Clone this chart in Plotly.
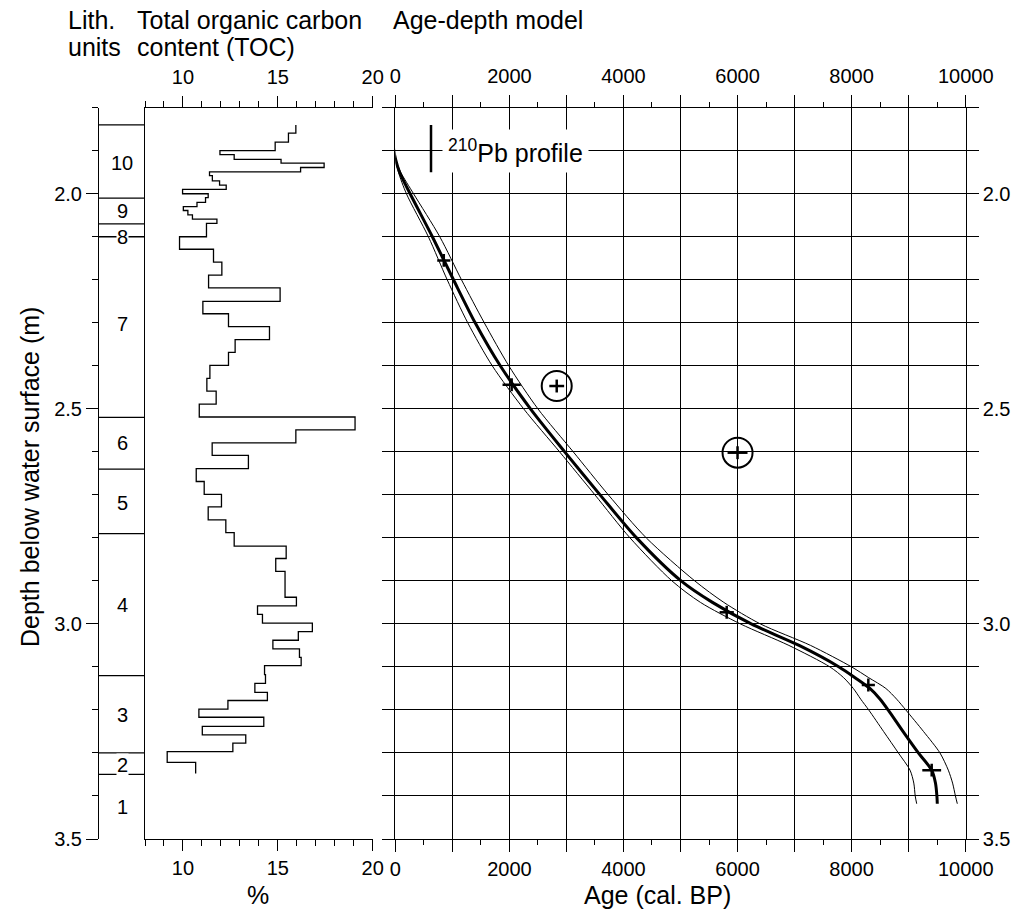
import plotly.graph_objects as go

# ---------------- data ----------------
# Lithological units: top boundaries (m), names and label depths
UNIT_TOPS = [1.84, 2.01, 2.07, 2.10, 2.52, 2.64, 2.79, 3.12, 3.30, 3.35]
UNIT_NAMES = ["10", "9", "8", "7", "6", "5", "4", "3", "2", "1"]
UNIT_LABEL_DEPTH = [1.929, 2.041, 2.10, 2.302, 2.579, 2.718, 2.955, 3.212, 3.327, 3.426]

# TOC samples: top depth of each sample (m), bottom of the last one, TOC (%)
TOC_TOP = [1.840, 1.859, 1.880, 1.900, 1.909, 1.920, 1.929, 1.939, 1.949, 1.958,
           1.970, 1.980, 1.990, 2.000, 2.009, 2.020, 2.030, 2.039, 2.049, 2.059,
           2.069, 2.100, 2.129, 2.159, 2.189, 2.219, 2.250, 2.279, 2.309, 2.339,
           2.369, 2.399, 2.429, 2.459, 2.489, 2.519, 2.549, 2.579, 2.608, 2.639,
           2.669, 2.699, 2.728, 2.758, 2.788, 2.819, 2.848, 2.878, 2.938, 2.958,
           2.978, 2.998, 3.018, 3.038, 3.058, 3.078, 3.097, 3.118, 3.138, 3.159,
           3.178, 3.198, 3.217, 3.238, 3.258, 3.277, 3.297, 3.322]
TOC_LAST_BOTTOM = 3.348
TOC_VALUES = [15.95, 15.56, 14.86, 11.95, 12.70, 15.17, 17.44, 16.20, 11.40, 11.55,
              11.93, 12.28, 9.98, 11.33, 11.19, 10.74, 10.02, 10.26, 10.50, 11.79,
              11.24, 9.82, 11.61, 12.05, 11.35, 15.12, 11.05, 12.40, 14.56, 12.75,
              12.40, 11.42, 11.26, 11.75, 10.86, 19.07, 15.95, 11.54, 13.45, 10.70,
              11.12, 12.03, 11.33, 12.26, 12.70, 15.44, 14.89, 15.38, 15.98, 13.93,
              14.19, 16.82, 16.08, 14.74, 16.14, 16.23, 14.30, 14.35, 13.79, 14.45,
              12.37, 10.84, 14.26, 11.02, 13.31, 12.63, 9.17, 10.67]

# Age-depth model: depth (m), best estimate and confidence envelope (cal. BP)
MODEL_DEPTH = [1.84, 1.88, 1.90, 1.92, 1.95, 2.00, 2.10, 2.20, 2.30, 2.40, 2.50, 2.60, 2.70,
               2.80, 2.90, 2.95, 3.00, 3.05, 3.10, 3.125, 3.15, 3.175, 3.20, 3.25, 3.30,
               3.34, 3.37, 3.40, 3.418]
MODEL_AGE = [-45, -43, -25, 5, 75, 260, 650, 1020, 1400, 1840, 2370, 2970, 3590,
             4230, 5010, 5560, 6240, 7080, 7780, 8060, 8320, 8500, 8640, 8900, 9170,
             9404, 9470, 9495, 9502]
MODEL_YOUNG = [-45, -43, -25, 5, 55, 195, 580, 910, 1270, 1700, 2250, 2880, 3500,
               4115, 4850, 5350, 6050, 6900, 7620, 7860, 8030, 8160, 8300, 8560, 8820,
               9024, 9090, 9115, 9141]
MODEL_OLD = [-45, -43, -25, 5, 95, 320, 780, 1160, 1560, 1990, 2500, 3120, 3735,
             4400, 5250, 5760, 6400, 7280, 8000, 8300, 8600, 8790, 8950, 9260, 9549,
             9695, 9770, 9820, 9853]

# Radiocarbon dates used in the model and rejected ones
DATE_AGE = [850, 2040, 5810, 8293, 9404]
DATE_DEPTH = [2.155, 2.444, 2.973, 3.142, 3.340]
DATE_ERR = [115, 160, 125, 115, 165]
REJECTED_AGE = [2830, 6000]
REJECTED_DEPTH = [2.447, 2.602]
REJECTED_ERR = [130, 175]
SAMPLE_HALF_THICKNESS = 0.015

# 210Pb dated interval
PB_AGE = 626
PB_DEPTH = [1.84, 1.95]

# ---------------- layout helpers ----------------
W, H = 1017, 911
FONT = "Liberation Sans, Arial, sans-serif"


def px_x(p):
    return p / W


def px_y(p):
    return 1 - p / H


Y_DOMAIN = [px_y(839), px_y(107.7)]
X_LITH = [px_x(99), px_x(145)]
X_TOC = [px_x(145), px_x(372.7)]
X_AGE = [px_x(395.3), px_x(965.7)]
DEPTH_RANGE = [3.5, 1.8]

fig = go.Figure()

# TOC step profile
toc_x, toc_y = [], []
bottoms = TOC_TOP[1:] + [TOC_LAST_BOTTOM]
for v, t, b in zip(TOC_VALUES, TOC_TOP, bottoms):
    toc_x += [v, v]
    toc_y += [t, b]
fig.add_trace(go.Scatter(x=toc_x, y=toc_y, mode="lines", xaxis="x2", yaxis="y2",
                         line=dict(color="black", width=1.3), hoverinfo="skip"))

# Age-depth envelope and model
for ages in (MODEL_YOUNG, MODEL_OLD):
    fig.add_trace(go.Scatter(x=ages, y=MODEL_DEPTH, mode="lines", xaxis="x3", yaxis="y3",
                             line=dict(color="black", width=1, shape="spline", smoothing=0.8),
                             hoverinfo="skip"))
fig.add_trace(go.Scatter(x=MODEL_AGE, y=MODEL_DEPTH, mode="lines", xaxis="x3", yaxis="y3",
                         line=dict(color="black", width=3, shape="spline", smoothing=0.8),
                         hoverinfo="skip"))

# 210Pb interval bar
fig.add_trace(go.Scatter(x=[PB_AGE, PB_AGE], y=PB_DEPTH, mode="lines", xaxis="x3", yaxis="y3",
                         line=dict(color="black", width=2.5), hoverinfo="skip"))

# Dates as crosses (age error horizontally, sample thickness vertically)
fig.add_trace(go.Scatter(
    x=DATE_AGE, y=DATE_DEPTH, mode="markers", xaxis="x3", yaxis="y3",
    marker=dict(size=1, color="black"),
    error_x=dict(type="data", array=DATE_ERR, width=0, thickness=2.5, color="black"),
    error_y=dict(type="constant", value=SAMPLE_HALF_THICKNESS, width=0, thickness=2.5, color="black"),
    hoverinfo="skip"))
fig.add_trace(go.Scatter(
    x=REJECTED_AGE, y=REJECTED_DEPTH, mode="markers", xaxis="x3", yaxis="y3",
    marker=dict(size=30, symbol="circle-open", color="black", line=dict(width=2, color="black")),
    error_x=dict(type="data", array=REJECTED_ERR, width=0, thickness=2.5, color="black"),
    error_y=dict(type="constant", value=SAMPLE_HALF_THICKNESS, width=0, thickness=2.5, color="black"),
    hoverinfo="skip"))

# Lithological unit boundaries
shapes = []
for d in UNIT_TOPS:
    shapes.append(dict(type="line", xref="x", yref="y", x0=0, x1=1, y0=d, y1=d,
                       line=dict(color="black", width=1.3)))

annotations = []
for name, d in zip(UNIT_NAMES, UNIT_LABEL_DEPTH):
    annotations.append(dict(x=0.5, y=d, xref="x", yref="y", text=name, showarrow=False,
                            font=dict(family=FONT, size=20, color="black"),
                            bgcolor="white", borderpad=0))

annotations.append(dict(x=2107, y=1.9006, xref="x3", yref="y3",
                        text="<sup>210</sup>Pb profile", showarrow=False,
                        font=dict(family=FONT, size=25, color="black"),
                        bgcolor="white", borderpad=5))


def paper_text(text, x, y, xanchor="left", yanchor="middle", angle=0, size=25):
    annotations.append(dict(x=px_x(x), y=px_y(y), xref="paper", yref="paper", text=text,
                            showarrow=False, xanchor=xanchor, yanchor=yanchor, textangle=angle,
                            font=dict(family=FONT, size=size, color="black")))


paper_text("Lith.", 66, 20)
paper_text("units", 66, 47)
paper_text("Total organic carbon", 135, 20)
paper_text("content (TOC)", 135, 47)
paper_text("Age-depth model", 391, 20)
paper_text("Depth below water surface (m)", 30, 477, xanchor="center", angle=-90)
paper_text("%", 258, 895, xanchor="center")
paper_text("Age (cal. BP)", 657, 895, xanchor="center")

tick_font = dict(family=FONT, size=20, color="black")
axis_line = dict(showline=True, linecolor="black", linewidth=1, tickcolor="black",
                 tickwidth=1, tickfont=tick_font, zeroline=False, automargin=False)

toc_ticks = dict(range=[8, 20], tickvals=[10, 15, 20], ticks="outside", ticklen=11,
                 minor=dict(dtick=1, tick0=0, ticks="outside", ticklen=6, tickcolor="black"),
                 showgrid=False, **axis_line)

age_ticks = dict(range=[0, 10000], tick0=0, dtick=1000, ticklabelstep=2, tickformat="d",
                 ticks="outside", ticklen=12,
                 minor=dict(dtick=500, tick0=0, ticks="outside", ticklen=5, tickcolor="black"),
                 **axis_line)

depth_ticks = dict(range=DEPTH_RANGE, dtick=0.5, tick0=0, tickformat=".1f",
                   ticks="outside", ticklen=12,
                   minor=dict(dtick=0.1, tick0=0, ticks="outside", ticklen=6, tickcolor="black"))

fig.update_layout(
    width=W, height=H, autosize=False,
    margin=dict(l=0, r=0, t=0, b=0, autoexpand=False),
    paper_bgcolor="white", plot_bgcolor="white",
    showlegend=False,
    font=dict(family=FONT, color="black"),
    shapes=shapes, annotations=annotations,
    xaxis=dict(domain=X_LITH, range=[0, 1], anchor="y", visible=False, automargin=False),
    yaxis=dict(domain=Y_DOMAIN, anchor="x", side="left", showgrid=False, **depth_ticks, **axis_line),
    xaxis2=dict(domain=X_TOC, anchor="y2", side="bottom", **toc_ticks),
    xaxis4=dict(overlaying="x2", anchor="y2", side="top", matches="x2", ticklabelstandoff=4,
                **toc_ticks),
    yaxis2=dict(domain=Y_DOMAIN, anchor="x2", matches="y", showline=True, linecolor="black",
                linewidth=1, ticks="", showticklabels=False, showgrid=False, zeroline=False,
                automargin=False),
    xaxis3=dict(domain=X_AGE, anchor="y3", side="bottom", showgrid=True, gridcolor="black",
                gridwidth=1, **age_ticks),
    xaxis5=dict(overlaying="x3", anchor="y3", side="top", matches="x3", showgrid=False,
                ticklabelstandoff=4, **age_ticks),
    yaxis3=dict(domain=Y_DOMAIN, anchor="x3", side="right", matches="y", mirror="allticks",
                showgrid=True, gridcolor="black", gridwidth=1,
                range=DEPTH_RANGE, dtick=0.5, tick0=0, tickformat=".1f",
                ticks="outside", ticklen=12,
                minor=dict(dtick=0.1, tick0=0, ticks="outside", ticklen=6, tickcolor="black",
                           showgrid=True, gridcolor="black", gridwidth=1),
                **axis_line),
)

# empty traces so the top axes are drawn
fig.add_trace(go.Scatter(x=[None], y=[None], xaxis="x4", yaxis="y2", hoverinfo="skip"))
fig.add_trace(go.Scatter(x=[None], y=[None], xaxis="x5", yaxis="y3", hoverinfo="skip"))

fig.write_html("out.html")
